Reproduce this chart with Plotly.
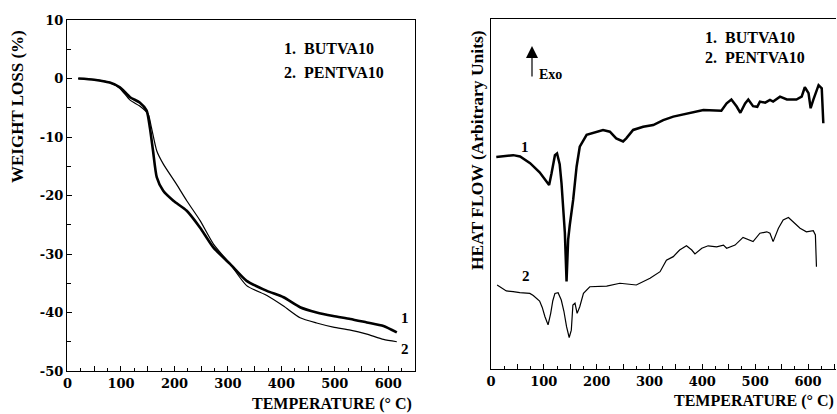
import plotly.graph_objects as go

# ---------------- TGA (left panel) ----------------
tga_temp_1 = [20, 50, 79, 98, 117, 135, 148, 154, 160, 167, 179, 198, 223, 248, 273, 304, 335,
              373, 404, 435, 466, 497, 529, 560, 591, 616]
tga_loss_1 = [0, -0.2, -0.7, -1.5, -3.2, -4.1, -5.5, -8.4, -12.4, -16.9, -19.2, -20.9, -22.6,
              -25.5, -28.9, -31.7, -34.6, -36.3, -37.4, -39.1, -40.0, -40.6, -41.1, -41.7, -42.3, -43.4]
tga_temp_2 = [20, 50, 79, 98, 117, 135, 151, 157, 167, 179, 204, 223, 248, 273, 304, 335, 373,
              404, 435, 466, 497, 529, 560, 591, 616]
tga_loss_2 = [0, -0.2, -0.7, -1.7, -3.7, -4.7, -6.1, -8.4, -12.4, -14.6, -18.1, -20.9, -24.3,
              -28.3, -31.7, -35.4, -37.1, -38.9, -40.9, -41.8, -42.5, -43.0, -43.7, -44.6, -45.0]

# ---------------- DSC (right panel, arbitrary units) ----------------
dsc_temp_1 = [10, 42, 55, 74, 92, 110, 114.6, 118, 121, 125, 130, 133.5, 137, 139.8, 143, 146,
              149, 155.5, 162, 168, 181, 212, 225, 237, 250, 256, 269, 288, 307, 326, 345, 370,
              402, 436, 446, 455, 465, 472, 481, 487, 496, 504, 509, 519, 528, 534, 547, 560,
              578, 588, 594, 601, 605, 610, 620, 626, 629]
dsc_flow_1 = [60.6, 61.1, 60.7, 58.8, 56.2, 52.6, 55.9, 59.0, 61.1, 61.6, 58.5, 53.0, 46.0, 38.9,
              25.0, 36.9, 41.0, 48.3, 57.8, 63.5, 66.9, 68.3, 67.8, 65.9, 65.0, 65.9, 68.3, 69.2,
              69.7, 71.1, 72.1, 73.0, 74.0, 73.8, 75.9, 77.0, 75.0, 73.2, 75.9, 77.0, 75.1, 74.9,
              76.4, 76.1, 76.9, 76.4, 77.8, 77.0, 77.0, 77.8, 80.5, 78.8, 74.5, 76.9, 81.1, 80.2, 70.2]
dsc_temp_2 = [11.6, 29, 42, 54.5, 73.5, 80, 92, 97, 102, 108, 113, 117, 121, 127, 133, 138, 143,
              148, 152, 155, 159, 163, 168, 175, 187, 219, 244, 275, 301, 320, 332, 345, 357,
              370, 380, 386, 399, 411, 427, 440, 446, 462, 477, 487, 496, 509, 522, 528, 534,
              544, 553, 563, 572, 585, 597, 610, 614, 616]
dsc_flow_2 = [24.0, 22.3, 22.1, 21.8, 21.6, 21.0, 19.4, 17.6, 15.0, 12.6, 15.9, 19.5, 21.6, 21.8,
              19.7, 16.5, 12.1, 9.0, 11.1, 18.3, 18.8, 15.9, 17.8, 21.6, 23.5, 23.7, 24.5, 24.0,
              25.9, 27.8, 31.1, 32.1, 34.0, 35.2, 34.0, 32.9, 34.5, 35.2, 34.9, 35.4, 34.5, 35.4,
              37.6, 37.0, 36.4, 38.8, 39.2, 38.8, 36.4, 40.2, 42.6, 43.3, 42.1, 40.2, 39.2, 39.5,
              38.3, 29.2]

x_tick_vals = list(range(0, 651, 50))
x_tick_text = [str(v) if v % 100 == 0 else "" for v in x_tick_vals]
y_tick_vals = [10, 0, -10, -20, -30, -40, -50]
y_tick_text = ["10", "0", "-10", "-20", "-30", "-40", "-50"]

W, H = 837, 414
def px(x):
    return x / W
def py(y):
    return 1 - y / H

tick_font = dict(family="DejaVu Serif", size=13, color="black", weight="bold")
bold = "Liberation Serif"

fig = go.Figure()
fig.add_trace(go.Scatter(x=tga_temp_1, y=tga_loss_1, mode="lines", line=dict(color="black", width=2.6, shape="spline", smoothing=0.6), xaxis="x", yaxis="y", showlegend=False))
fig.add_trace(go.Scatter(x=tga_temp_2, y=tga_loss_2, mode="lines", line=dict(color="black", width=1.2, shape="spline", smoothing=0.6), xaxis="x", yaxis="y", showlegend=False))
fig.add_trace(go.Scatter(x=dsc_temp_1, y=dsc_flow_1, mode="lines", line=dict(color="black", width=2.5), xaxis="x2", yaxis="y2", showlegend=False))
fig.add_trace(go.Scatter(x=dsc_temp_2, y=dsc_flow_2, mode="lines", line=dict(color="black", width=1.2), xaxis="x2", yaxis="y2", showlegend=False))

axis_common = dict(showgrid=False, zeroline=False, linecolor="black", linewidth=1.2, automargin=False,
                   ticks="inside", tickcolor="black", tickfont=tick_font)

fig.update_layout(
    template="none",
    width=W, height=H, autosize=False,
    margin=dict(l=0, r=0, t=0, b=0, pad=0, autoexpand=False),
    paper_bgcolor="white", plot_bgcolor="white",
    xaxis=dict(domain=[px(67), px(415)], range=[-1, 650], anchor="y", showline=True, mirror=True,
               tickvals=x_tick_vals, ticktext=x_tick_text, ticklen=5,
               minor=dict(dtick=25, tick0=0, ticklen=3, ticks="inside", tickcolor="black"),
               **axis_common),
    yaxis=dict(domain=[py(371), py(20)], range=[-50, 10], anchor="x", showline=True, mirror=True,
               tickvals=y_tick_vals, ticktext=y_tick_text, ticklen=5,
               minor=dict(dtick=5, tick0=0, ticklen=4, ticks="inside", tickcolor="black"),
               **axis_common),
    xaxis2=dict(domain=[px(491), px(836)], range=[0, 653], anchor="y2", showline=True, mirror=True,
                tickvals=x_tick_vals, ticktext=x_tick_text, ticklen=5,
                minor=dict(dtick=25, tick0=0, ticklen=3, ticks="inside", tickcolor="black"),
                **axis_common),
    yaxis2=dict(domain=[py(369), py(19)], range=[0, 100], anchor="x2", showline=True, mirror=False,
                showticklabels=False, ticks="", showgrid=False, zeroline=False, automargin=False,
                linecolor="black", linewidth=1.2),
)

ann = []
def txt(x, y, s, size, xanchor="left", angle=0, yanchor="middle", family=bold):
    ann.append(dict(x=px(x), y=py(y), xref="paper", yref="paper", text=s, showarrow=False,
                    xanchor=xanchor, yanchor=yanchor, textangle=angle,
                    font=dict(family=family, size=size, color="black")))

# left panel texts
txt(282, 49, "<b>1.  BUTVA10</b>", 16)
txt(282, 72, "<b>2.  PENTVA10</b>", 16)
txt(17, 107, "<b>WEIGHT LOSS (%)</b>", 17, xanchor="center", angle=-90)
txt(414, 415, "<b>TEMPERATURE (\u00b0 C)</b>", 16, xanchor="right", yanchor="bottom")
# right panel texts
txt(703, 38, "<b>1.  BUTVA10</b>", 16)
txt(703, 58, "<b>2.  PENTVA10</b>", 16)
txt(477, 150, "<b>HEAT FLOW (Arbitrary Units)</b>", 17.5, xanchor="center", angle=-90)
txt(836, 412, "<b>TEMPERATURE (\u00b0 C)</b>", 16, xanchor="right", yanchor="bottom")
txt(537, 74, "<b>Exo</b>", 14)

# curve labels in data coordinates
for xr, yr, x, y, s in [("x", "y", 632, -41, "1"), ("x", "y", 632, -46.2, "2"),
                        ("x2", "y2", 64, 63.4, "1"), ("x2", "y2", 66, 26.6, "2")]:
    ann.append(dict(x=x, y=y, xref=xr, yref=yr, text="<b>%s</b>" % s, showarrow=False,
                    font=dict(family=bold, size=15, color="black")))

# Exo arrow
ann.append(dict(x=px(532), y=py(46), xref="paper", yref="paper", ax=0, ay=32, text="",
                showarrow=True, arrowhead=2, arrowsize=2, arrowwidth=1.2, arrowcolor="black"))

fig.update_layout(annotations=ann)
fig.write_html("out.html", config={"displayModeBar": False},
               post_script="document.body.style.margin='0px';document.body.style.padding='0px';document.body.style.overflow='hidden';")
